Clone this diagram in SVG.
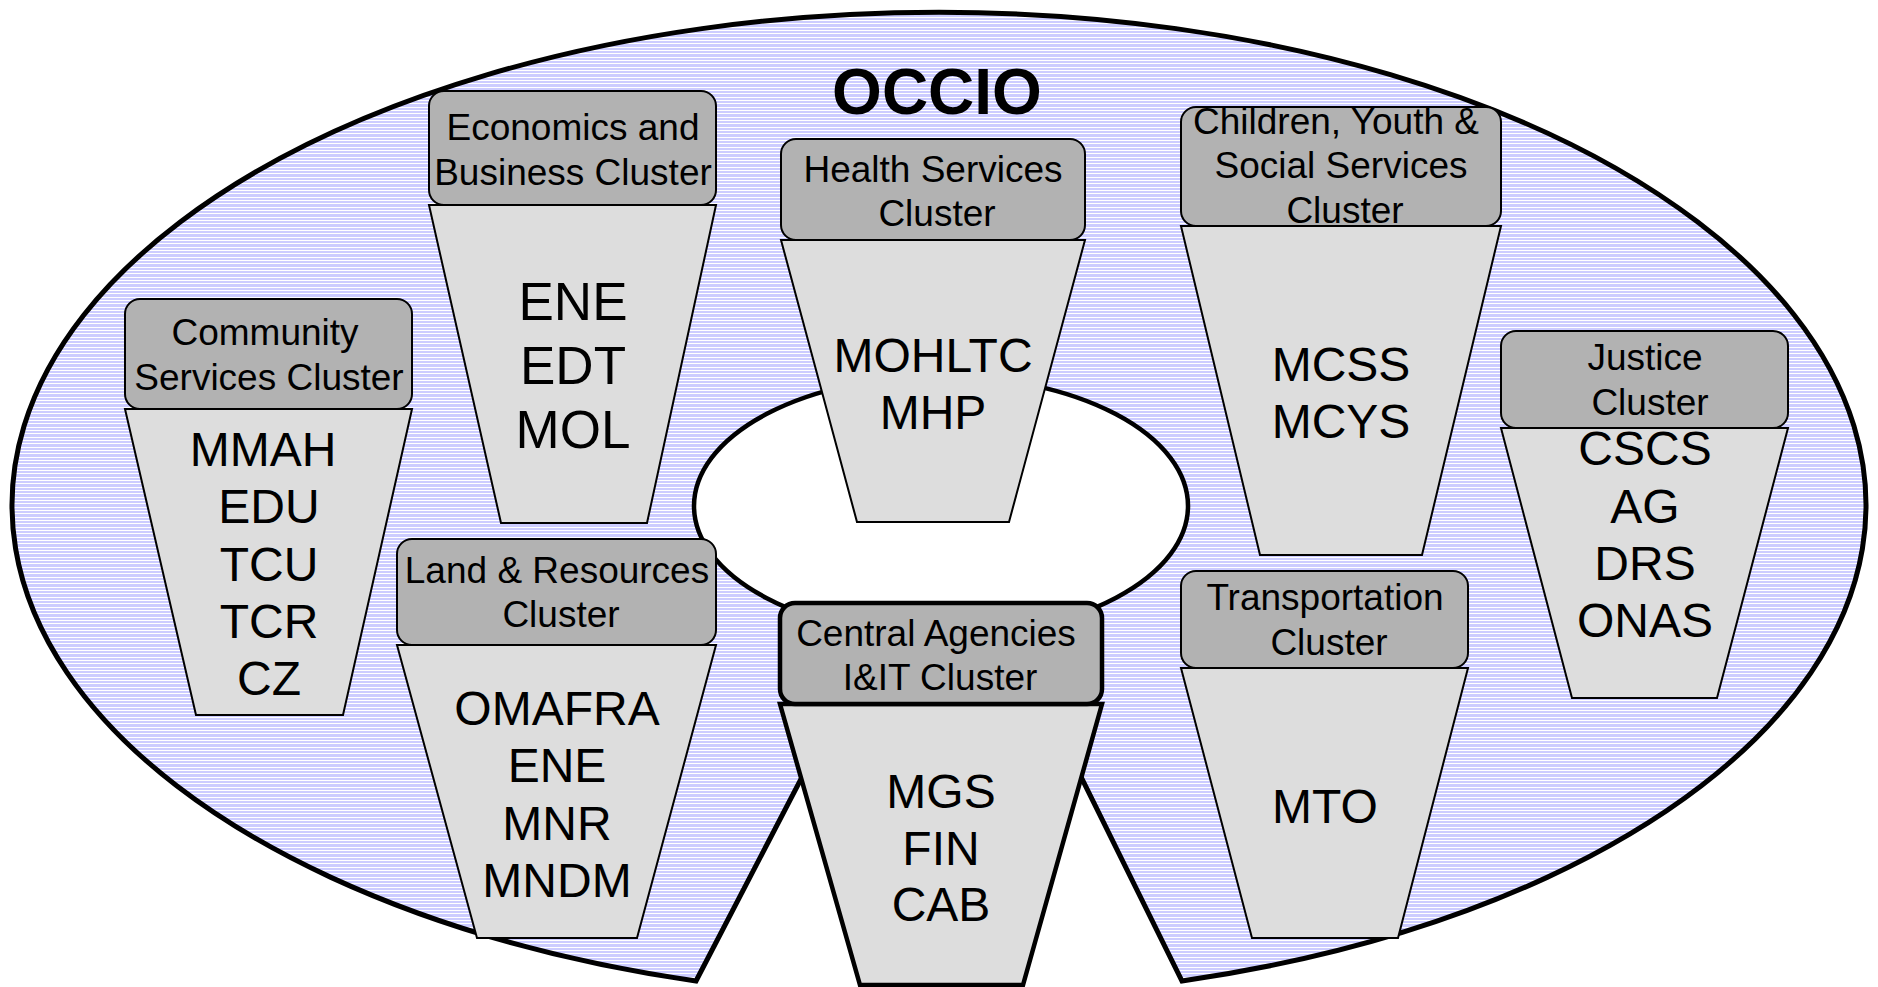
<svg xmlns="http://www.w3.org/2000/svg" width="1878" height="987" viewBox="0 0 1878 987">
<defs>
<pattern id="stripes" width="20" height="10" patternUnits="userSpaceOnUse">
<rect width="20" height="10" fill="#ccccff"/>
<rect y="0" width="20" height="1" fill="#ffffff"/>
<rect y="3" width="20" height="1" fill="#ffffff"/>
<rect y="7" width="20" height="1" fill="#ffffff"/>
</pattern>
<style>
.hdr{fill:#b2b2b2;stroke:#000;stroke-width:2}
.trap{fill:#dddddd;stroke:#000;stroke-width:2}
.thick{stroke-width:4.5}
text{font-family:"Liberation Sans",Arial,sans-serif;fill:#000;text-anchor:middle}
.ht{font-size:37px}
.bt{font-size:48px}
.bt2{font-size:53px}
</style>
</defs>
<g id="background">
<path d="M 696 981 L 840 704 L 1045 704 L 1182 981 A 927 493 0 1 0 696 981 Z" fill="url(#stripes)" stroke="#000" stroke-width="5" stroke-linejoin="miter"/>
<ellipse cx="941" cy="506" rx="247" ry="130" fill="#fff" stroke="#000" stroke-width="4.5"/>
<text x="937" y="114" style="font-size:64px;font-weight:bold">OCCIO</text>
</g>
<g id="connectors"></g>
<g id="economics">
<polygon class="trap" points="429,205 716,205 647,523 501,523"/>
<rect class="hdr" x="429" y="91" width="287" height="114" rx="15"/>
<text class="ht" x="573" y="140">Economics and</text>
<text class="ht" x="573" y="185">Business Cluster</text>
<text class="bt2" x="573" y="320">ENE</text>
<text class="bt2" x="573" y="384">EDT</text>
<text class="bt2" x="573" y="448">MOL</text>
</g>
<g id="health">
<polygon class="trap" points="781,240 1085,240 1009,522 857,522"/>
<rect class="hdr" x="781" y="139" width="304" height="101" rx="15"/>
<text class="ht" x="933" y="182">Health Services</text>
<text class="ht" x="937" y="226">Cluster</text>
<text class="bt" x="933" y="372">MOHLTC</text>
<text class="bt" x="933" y="429">MHP</text>
</g>
<g id="children">
<polygon class="trap" points="1181,226 1501,226 1422,555 1260,555"/>
<rect class="hdr" x="1181" y="107" width="320" height="119" rx="15"/>
<text class="ht" x="1336" y="134">Children, Youth &amp;</text>
<text class="ht" x="1341" y="178">Social Services</text>
<text class="ht" x="1345" y="223">Cluster</text>
<text class="bt" x="1341" y="381">MCSS</text>
<text class="bt" x="1341" y="438">MCYS</text>
</g>
<g id="community">
<polygon class="trap" points="125,409 412,409 343,715 196,715"/>
<rect class="hdr" x="125" y="299" width="287" height="110" rx="15"/>
<text class="ht" x="265" y="345">Community</text>
<text class="ht" x="269" y="390">Services Cluster</text>
<text class="bt" x="263" y="466">MMAH</text>
<text class="bt" x="269" y="523">EDU</text>
<text class="bt" x="269" y="581">TCU</text>
<text class="bt" x="269" y="638">TCR</text>
<text class="bt" x="269" y="695">CZ</text>
</g>
<g id="land">
<polygon class="trap" points="397,645 716,645 637,938 477,938"/>
<rect class="hdr" x="397" y="539" width="319" height="106" rx="15"/>
<text class="ht" x="557" y="583">Land &amp; Resources</text>
<text class="ht" x="561" y="627">Cluster</text>
<text class="bt" x="557" y="725">OMAFRA</text>
<text class="bt" x="557" y="782">ENE</text>
<text class="bt" x="557" y="840">MNR</text>
<text class="bt" x="557" y="897">MNDM</text>
</g>
<g id="central">
<polygon class="trap thick" points="780,704 1102,704 1023,985 860,985"/>
<rect class="hdr thick" x="780" y="603" width="322" height="101" rx="15"/>
<text class="ht" x="936" y="646">Central Agencies</text>
<text class="ht" x="940" y="690">I&amp;IT Cluster</text>
<text class="bt" x="941" y="808">MGS</text>
<text class="bt" x="941" y="865">FIN</text>
<text class="bt" x="941" y="921">CAB</text>
</g>
<g id="transportation">
<polygon class="trap" points="1181,668 1468,668 1398,938 1252,938"/>
<rect class="hdr" x="1181" y="571" width="287" height="97" rx="15"/>
<text class="ht" x="1325" y="610">Transportation</text>
<text class="ht" x="1329" y="655">Cluster</text>
<text class="bt" x="1325" y="823">MTO</text>
</g>
<g id="justice">
<polygon class="trap" points="1501,428 1788,428 1717,698 1572,698"/>
<rect class="hdr" x="1501" y="331" width="287" height="97" rx="15"/>
<text class="ht" x="1645" y="370">Justice</text>
<text class="ht" x="1650" y="415">Cluster</text>
<text class="bt" x="1645" y="465">CSCS</text>
<text class="bt" x="1645" y="523">AG</text>
<text class="bt" x="1645" y="580">DRS</text>
<text class="bt" x="1645" y="637">ONAS</text>
</g>
</svg>
